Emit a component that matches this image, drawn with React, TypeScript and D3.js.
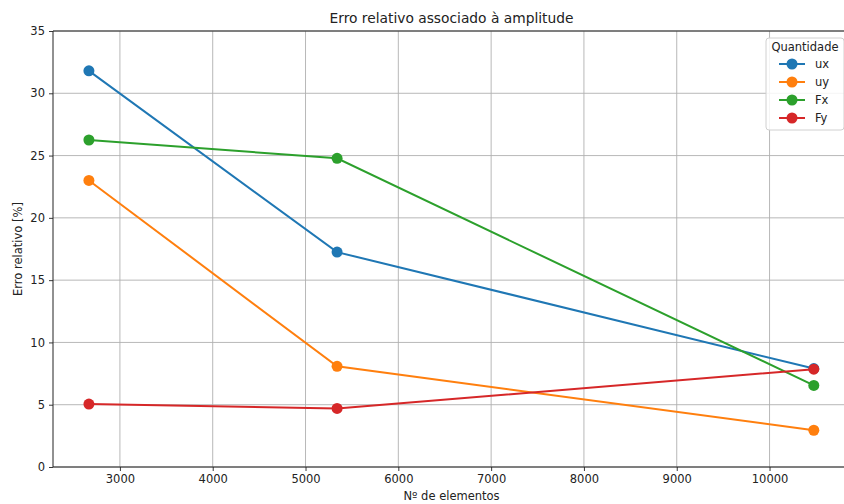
import React, { useEffect, useRef } from 'react';
import * as d3 from 'd3';

const elementos = [2666, 5340, 10477];
const seriesNames = ['ux', 'uy', 'Fx', 'Fy'];
const ux = [31.8, 17.25, 7.9];
const uy = [23.0, 8.08, 2.95];
const Fx = [26.25, 24.78, 6.55];
const Fy = [5.05, 4.7, 7.85];
const colors = ['#1f77b4', '#ff7f0e', '#2ca02c', '#d62728'];
const xTicks = [3000, 4000, 5000, 6000, 7000, 8000, 9000, 10000];
const yTicks = [0, 5, 10, 15, 20, 25, 30, 35];

const App = () => {
  const ref = useRef<SVGSVGElement | null>(null);

  useEffect(() => {
    const width = 844;
    const height = 504;
    const margin = { top: 31, right: -6, bottom: 37, left: 53 };
    const font = 'DejaVu Sans, sans-serif';

    const svg = d3.select(ref.current);
    svg.selectAll('*').remove();

    const innerW = width - margin.left - margin.right;
    const innerH = height - margin.top - margin.bottom;

    // x: 3000 at 120px, 10000 at 770px
    const xScale = d3.scaleLinear().domain([2279, 10867]).range([0, innerW]);
    const yScale = d3.scaleLinear().domain([0, 35]).range([innerH, 0]);

    const g = svg.append('g').attr('transform', `translate(${margin.left},${margin.top})`);

    // grid
    g.append('g')
      .selectAll('line')
      .data(xTicks)
      .enter().append('line')
      .attr('x1', d => xScale(d)).attr('x2', d => xScale(d))
      .attr('y1', 0).attr('y2', innerH)
      .attr('stroke', '#b0b0b0').attr('stroke-width', 0.9);
    g.append('g')
      .selectAll('line')
      .data(yTicks)
      .enter().append('line')
      .attr('x1', 0).attr('x2', innerW)
      .attr('y1', d => yScale(d)).attr('y2', d => yScale(d))
      .attr('stroke', '#b0b0b0').attr('stroke-width', 0.9);

    // axes
    const xAxis = g.append('g')
      .attr('transform', `translate(0,${innerH})`)
      .call(d3.axisBottom(xScale).tickValues(xTicks).tickSize(4).tickPadding(4).tickFormat(d3.format('d')));
    const yAxis = g.append('g')
      .call(d3.axisLeft(yScale).tickValues(yTicks).tickSize(4).tickPadding(4).tickFormat(d3.format('d')));
    [xAxis, yAxis].forEach(ax => {
      ax.selectAll('text').attr('font-family', font).attr('font-size', 11.5).attr('fill', '#222');
      ax.selectAll('line').attr('stroke', '#222').attr('stroke-width', 0.9);
      ax.select('.domain').attr('stroke', '#222').attr('stroke-width', 1);
    });
    xAxis.select('.domain').attr('d', `M0,0H${innerW}`);
    yAxis.select('.domain').attr('d', `M0,${innerH}V0`);
    // top spine
    g.append('line').attr('x1', 0).attr('x2', innerW).attr('y1', 0).attr('y2', 0)
      .attr('stroke', '#222').attr('stroke-width', 1);

    // lines
    const allSeries = [ux, uy, Fx, Fy];
    const line = d3.line<number>()
      .x((_, i) => xScale(elementos[i]))
      .y(d => yScale(d));

    allSeries.forEach((values, s) => {
      g.append('path')
        .datum(values)
        .attr('d', line)
        .attr('fill', 'none')
        .attr('stroke', colors[s])
        .attr('stroke-width', 2);
      g.selectAll(`.pt-${s}`)
        .data(values)
        .enter().append('circle')
        .attr('class', `pt-${s}`)
        .attr('cx', (_, i) => xScale(elementos[i]))
        .attr('cy', d => yScale(d))
        .attr('r', 5.5)
        .attr('fill', colors[s]);
    });

    // title and labels
    svg.append('text')
      .attr('x', margin.left + innerW / 2)
      .attr('y', 23)
      .attr('text-anchor', 'middle')
      .attr('font-family', font).attr('font-size', 13.8).attr('fill', '#222')
      .text('Erro relativo associado à amplitude');
    svg.append('text')
      .attr('x', margin.left + innerW / 2)
      .attr('y', 500)
      .attr('text-anchor', 'middle')
      .attr('font-family', font).attr('font-size', 11.5).attr('fill', '#222')
      .text('Nº de elementos');
    svg.append('text')
      .attr('transform', `translate(22,${margin.top + innerH / 2}) rotate(-90)`)
      .attr('text-anchor', 'middle')
      .attr('font-family', font).attr('font-size', 11.5).attr('fill', '#222')
      .text('Erro relativo [%]');

    // legend
    const legend = svg.append('g').attr('transform', 'translate(766,38)');
    legend.append('rect')
      .attr('x', 0).attr('y', 0).attr('width', 78).attr('height', 92)
      .attr('rx', 3)
      .attr('fill', 'white').attr('fill-opacity', 0.85)
      .attr('stroke', '#d0d0d0').attr('stroke-width', 1);
    legend.append('text')
      .attr('x', 39).attr('y', 13)
      .attr('text-anchor', 'middle')
      .attr('font-family', font).attr('font-size', 11.5).attr('fill', '#222')
      .text('Quantidade');
    seriesNames.forEach((name, i) => {
      const y = 26 + i * 18;
      legend.append('line')
        .attr('x1', 13).attr('x2', 39).attr('y1', y).attr('y2', y)
        .attr('stroke', colors[i]).attr('stroke-width', 2);
      legend.append('circle')
        .attr('cx', 26).attr('cy', y).attr('r', 5.5).attr('fill', colors[i]);
      legend.append('text')
        .attr('x', 49).attr('y', y + 4)
        .attr('font-family', font).attr('font-size', 11.5).attr('fill', '#222')
        .text(name);
    });
  }, []);

  return (
    <svg
      ref={ref}
      width={844}
      height={504}
      style={{ position: 'absolute', left: 0, top: 0, background: 'white' }}
    />
  );
};

export default App;
